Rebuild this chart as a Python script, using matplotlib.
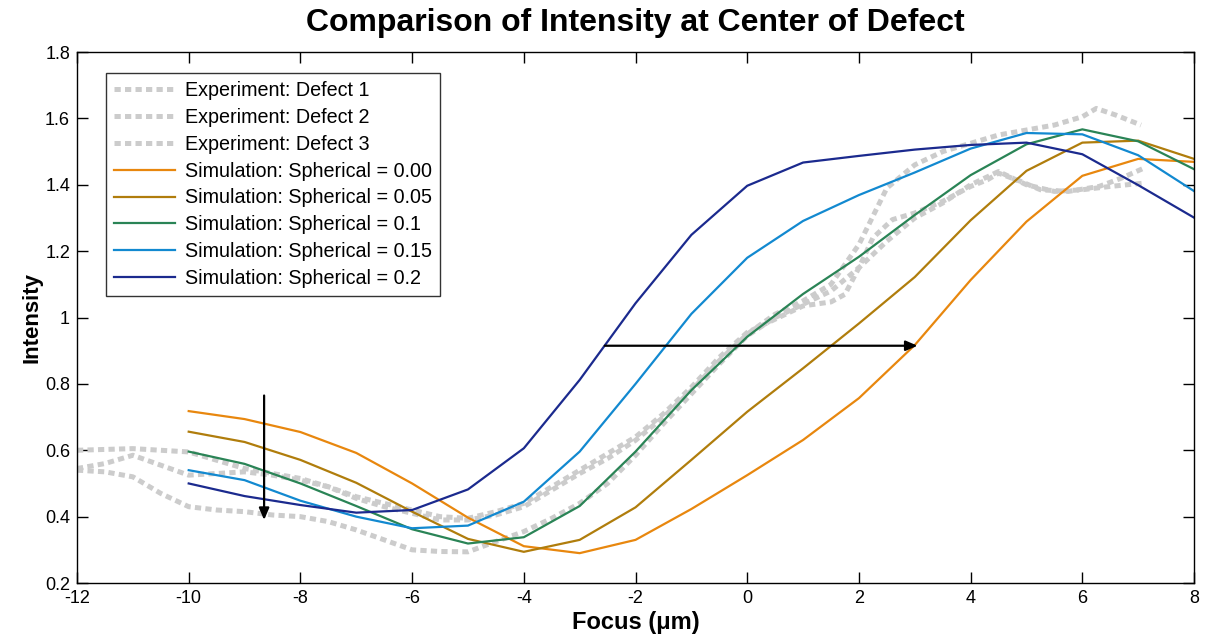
import matplotlib
matplotlib.use("Agg")
import matplotlib.pyplot as plt

plt.rcParams['font.family'] = ['Liberation Sans', 'DejaVu Sans']

# ---- data ----
focus_sim = [-10, -9, -8, -7, -6, -5, -4, -3, -2, -1, 0, 1, 2, 3, 4, 5, 6, 7, 8]
sim_000 = [0.718, 0.694, 0.655, 0.592, 0.500, 0.397, 0.311, 0.290, 0.330, 0.423, 0.525, 0.631,
           0.757, 0.917, 1.113, 1.289, 1.427, 1.478, 1.469]
sim_005 = [0.656, 0.625, 0.571, 0.502, 0.415, 0.333, 0.294, 0.330, 0.428, 0.571, 0.716, 0.847,
           0.982, 1.122, 1.293, 1.442, 1.527, 1.533, 1.478]
sim_010 = [0.596, 0.559, 0.500, 0.432, 0.362, 0.319, 0.338, 0.432, 0.596, 0.781, 0.942, 1.071,
           1.183, 1.309, 1.429, 1.522, 1.567, 1.531, 1.447]
sim_015 = [0.540, 0.510, 0.448, 0.400, 0.365, 0.373, 0.445, 0.596, 0.800, 1.011, 1.180, 1.291,
           1.369, 1.437, 1.509, 1.556, 1.552, 1.489, 1.381]
sim_020 = [0.500, 0.462, 0.435, 0.412, 0.420, 0.482, 0.606, 0.812, 1.043, 1.249, 1.397, 1.467,
           1.487, 1.506, 1.520, 1.527, 1.492, 1.399, 1.301]

exp1_x = [-12, -11.5, -11, -10.5, -10, -9.5, -9, -8.5, -8, -7.5, -7, -6.5, -6, -5.5, -5, -4.5,
          -4, -3.5, -3, -2.5, -2, -1.5, -1, -0.5, 0, 0.5, 1, 1.5, 2, 2.5, 3, 3.5, 4, 4.5, 5,
          5.5, 6, 6.25, 6.6, 7.05]
exp1_y = [0.545, 0.56, 0.585, 0.555, 0.525, 0.53, 0.535, 0.525, 0.51, 0.49, 0.455, 0.43, 0.41,
          0.39, 0.39, 0.405, 0.43, 0.48, 0.53, 0.575, 0.63, 0.70, 0.78, 0.87, 0.95, 1.01, 1.05,
          1.10, 1.22, 1.39, 1.46, 1.50, 1.525, 1.55, 1.565, 1.58, 1.605, 1.63, 1.61, 1.58]

exp2_x = [-12, -11, -10, -9.5, -9, -8.5, -8, -7.5, -7, -6.5, -6, -5.5, -5, -4.5, -4, -3.5, -3,
          -2.5, -2, -1.5, -1, -0.5, 0, 0.5, 1, 1.5, 1.75, 2, 2.25, 2.6, 3, 3.5, 4, 4.3, 4.5,
          4.9, 5.25, 5.75, 6.3, 6.7, 7.1]
exp2_y = [0.60, 0.605, 0.595, 0.57, 0.545, 0.53, 0.515, 0.49, 0.46, 0.44, 0.42, 0.40, 0.395,
          0.415, 0.44, 0.49, 0.54, 0.59, 0.64, 0.71, 0.79, 0.88, 0.955, 0.995, 1.035, 1.047,
          1.07, 1.15, 1.24, 1.295, 1.315, 1.35, 1.395, 1.415, 1.435, 1.41, 1.385, 1.38, 1.395,
          1.42, 1.45]

exp3_x = [-12, -11.5, -11, -10.5, -10, -9.5, -9, -8.5, -8, -7.5, -7, -6.5, -6, -5.5, -5, -4.5,
          -4, -3.5, -3, -2.5, -2, -1.5, -1, -0.5, 0, 0.5, 1, 1.5, 2, 2.5, 3, 3.5, 4, 4.5, 5,
          5.5, 6, 6.5, 7.1]
exp3_y = [0.54, 0.535, 0.52, 0.47, 0.43, 0.42, 0.415, 0.405, 0.40, 0.385, 0.36, 0.33, 0.30,
          0.295, 0.294, 0.325, 0.355, 0.395, 0.44, 0.50, 0.585, 0.68, 0.77, 0.86, 0.945, 1.00,
          1.04, 1.08, 1.15, 1.23, 1.30, 1.345, 1.40, 1.44, 1.40, 1.38, 1.385, 1.395, 1.405]

exp_labels = ["Experiment: Defect 1", "Experiment: Defect 2", "Experiment: Defect 3"]
sim_labels = ["Simulation: Spherical = 0.00", "Simulation: Spherical = 0.05",
              "Simulation: Spherical = 0.1", "Simulation: Spherical = 0.15",
              "Simulation: Spherical = 0.2"]
sim_colors = ["#E8870E", "#B07D0C", "#2A8456", "#1289D0", "#1B2A8E"]

xticks = [-12, -10, -8, -6, -4, -2, 0, 2, 4, 6, 8]
yticks = [0.2, 0.4, 0.6, 0.8, 1.0, 1.2, 1.4, 1.6, 1.8]
ytick_labels = ["0.2", "0.4", "0.6", "0.8", "1", "1.2", "1.4", "1.6", "1.8"]

# arrows (data coords)
v_arrow = ((-8.65, 0.765), (-8.65, 0.39))
h_arrow = ((-2.55, 0.915), (3.05, 0.915))

# ---- figure ----
fig = plt.figure(figsize=(12.05, 6.36), dpi=100)
ax = fig.add_axes([0.0639, 0.0833, 0.927, 0.8349])

gray = "#CCCCCC"
dots = (0, (1.25, 0.85))
for xs, ys, lab in zip([exp1_x, exp2_x, exp3_x], [exp1_y, exp2_y, exp3_y], exp_labels):
    ax.plot(xs, ys, color=gray, lw=3.6, linestyle=dots, dash_capstyle='butt', label=lab)

for ys, lab, c in zip([sim_000, sim_005, sim_010, sim_015, sim_020], sim_labels, sim_colors):
    ax.plot(focus_sim, ys, color=c, lw=1.6, label=lab)

for (x0, y0), (x1, y1) in [v_arrow, h_arrow]:
    ax.annotate("", xy=(x1, y1), xytext=(x0, y0),
                arrowprops=dict(arrowstyle="-|>,head_length=0.7,head_width=0.3",
                                color="black", lw=1.6, shrinkA=0, shrinkB=0))

ax.set_xlim(-12, 8)
ax.set_ylim(0.2, 1.8)
ax.set_xticks(xticks)
ax.set_xticklabels([str(t) for t in xticks])
ax.set_yticks(yticks)
ax.set_yticklabels(ytick_labels)
ax.tick_params(direction='in', length=8, width=1, labelsize=13, top=True, right=True, pad=5)
for s in ax.spines.values():
    s.set_linewidth(1.0)

ax.set_title("Comparison of Intensity at Center of Defect", fontsize=23, fontweight='bold', pad=15)
ax.set_xlabel("Focus (\u03bcm)", fontsize=17, fontweight='bold', labelpad=3)
ax.set_ylabel("Intensity", fontsize=16, fontweight='bold', labelpad=1.5)

leg = ax.legend(loc='upper left', bbox_to_anchor=(0.026, 0.9605), borderaxespad=0,
                fontsize=14.2, handlelength=3.1, handletextpad=0.5, labelspacing=0.40,
                frameon=True, fancybox=False, edgecolor='black', borderpad=0.4)
leg.get_frame().set_linewidth(1.0)

fig.savefig("out.png", dpi=100, facecolor='white')
